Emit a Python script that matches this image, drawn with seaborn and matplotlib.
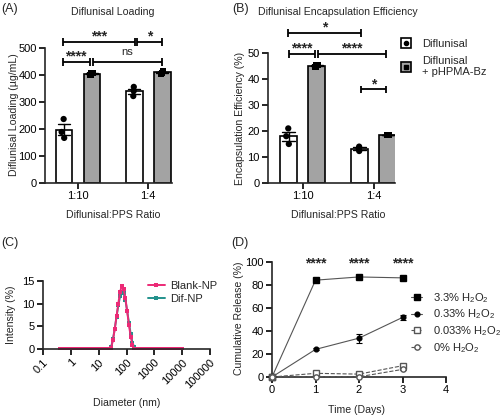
import numpy as np
import pandas as pd
import matplotlib.pyplot as plt
import seaborn as sns
from matplotlib.lines import Line2D

sns.set_theme(style="ticks")
plt.rcParams["font.family"] = ["Liberation Sans", "DejaVu Sans"]
plt.rcParams["mathtext.default"] = "regular"
plt.rcParams["font.size"] = 8
plt.rcParams["axes.linewidth"] = 1.2

# ---- data ----
ratios = ["1:10", "1:4"]
formulations = ["Diflunisal", "Diflunisal\n+ pHPMA-Bz"]

# drug loading (ug/mL), three replicates each
dif_loading_1_10 = [237, 189, 167]
bz_loading_1_10 = [401, 407, 408]
dif_loading_1_4 = [356, 341, 322]
bz_loading_1_4 = [405, 415, 408]

# encapsulation efficiency (%)
dif_ee_1_10 = [21.0, 18.0, 15.0]
bz_ee_1_10 = [44.6, 45.5, 45.4]
dif_ee_1_4 = [12.3, 14.0, 13.3]
bz_ee_1_4 = [18.4, 18.6, 18.5]

# DLS size distribution
diameter_nm = [
    0.4, 0.4632, 0.5365, 0.6213, 0.7195, 0.8332, 0.9649, 1.117, 1.294, 1.499,
    1.736, 2.01, 2.328, 2.696, 3.122, 3.615, 4.187, 4.849, 5.615, 6.503,
    7.531, 8.721, 10.1, 11.7, 13.54, 15.69, 18.17, 21.04, 24.36, 28.21,
    32.67, 37.84, 43.82, 50.75, 58.77, 68.06, 78.82, 91.28, 105.7, 122.4,
    141.8, 164.2, 190.1, 220.2, 255.0, 295.3, 342.0, 396.1, 458.7, 531.2,
    615.1, 712.4, 825.0, 955.4, 1106, 1281, 1484, 1718, 1990, 2305,
    2669, 3091, 3580, 4145, 4801, 5560, 6439, 7456, 8635, 10000,
]
blank_np = [
    0, 0, 0, 0, 0, 0, 0, 0, 0, 0,
    0, 0, 0, 0, 0, 0, 0, 0, 0, 0,
    0, 0, 0, 0, 0, 0, 0, 0, 0, 0.3,
    2.0, 4.4, 7.2, 10.0, 12.6, 14.0, 13.3, 11.2, 8.3, 5.3,
    2.7, 0.9, 0.1, 0, 0, 0, 0, 0, 0, 0,
    0, 0, 0, 0, 0, 0, 0, 0, 0, 0,
    0, 0, 0, 0, 0, 0, 0, 0, 0, 0,
]
dif_np = [
    0, 0, 0, 0, 0, 0, 0, 0, 0, 0,
    0, 0, 0, 0, 0, 0, 0, 0, 0, 0,
    0, 0, 0, 0, 0, 0, 0, 0, 0, 0.5,
    2.2, 4.5, 7.1, 9.6, 11.6, 12.6, 12.3, 10.8, 8.4, 5.8,
    3.3, 1.4, 0.4, 0, 0, 0, 0, 0, 0, 0,
    0, 0, 0, 0, 0, 0, 0, 0, 0, 0,
    0, 0, 0, 0, 0, 0, 0, 0, 0, 0,
]

# cumulative release (%) vs time
days = [0, 1, 2, 3]
rel_3_3 = [0, 84.2, 87.0, 86.2]
rel_0_33 = [0, 24.0, 33.8, 51.8]
rel_0_033 = [0, 3.2, 2.5, 9.8]
rel_0 = [0, 0.3, 0.2, 6.6]
sem_3_3 = [0, 0.6, 0.6, 0.8]
sem_0_33 = [0, 0.8, 4.0, 2.2]
sem_0_033 = [0, 0.5, 0.5, 1.0]
sem_0 = [0, 0.3, 0.3, 0.8]
release_labels = ["3.3% H$_2$O$_2$", "0.33% H$_2$O$_2$", "0.033% H$_2$O$_2$", "0% H$_2$O$_2$"]


def long_df(a, b, c, d):
    rows = []
    for ratio, form, vals in [("1:10", formulations[0], a), ("1:10", formulations[1], b),
                              ("1:4", formulations[0], c), ("1:4", formulations[1], d)]:
        for v in vals:
            rows.append({"ratio": ratio, "form": form, "value": v})
    return pd.DataFrame(rows)


loading_df = long_df(dif_loading_1_10, bz_loading_1_10, dif_loading_1_4, bz_loading_1_4)
ee_df = long_df(dif_ee_1_10, bz_ee_1_10, dif_ee_1_4, bz_ee_1_4)

gray = "#a3a3a3"
bar_colors = ["white", gray]
label_size = 7.6

W, H = 500, 416
fig = plt.figure(figsize=(5, 4.16), dpi=100)


def box(l, t, r, b):
    return [l / W, 1 - b / H, (r - l) / W, (b - t) / H]


def ftext(x, y, s, **kw):
    ha = kw.pop("ha", "center")
    va = kw.pop("va", "center")
    fig.text(x / W, 1 - y / H, s, ha=ha, va=va, **kw)


ax_a = fig.add_axes(box(45, 48, 172, 183))
ax_b = fig.add_axes(box(268, 53, 395, 183))
ax_c = fig.add_axes(box(43, 281, 210, 349))
ax_d = fig.add_axes(box(272, 262, 446, 377))


def style_ax(ax):
    sns.despine(ax=ax)
    ax.tick_params(length=4, width=1.2, labelsize=8, pad=2, color="black")
    ax.set(xlabel="", ylabel="")


def bar_panel(ax, df):
    np.random.seed(2)
    sns.barplot(data=df, x="ratio", y="value", hue="form", order=ratios, hue_order=formulations,
                palette=bar_colors, edgecolor="black", linewidth=1.2, width=0.8, gap=0.4,
                errorbar="se", capsize=0.35, err_kws={"color": "black", "linewidth": 1.0},
                legend=False, ax=ax)
    for form, mk in zip(formulations, ["o", "s"]):
        sns.stripplot(data=df[df["form"] == form], x="ratio", y="value", hue="form",
                      order=ratios, hue_order=formulations, palette=["black", "black"],
                      dodge=True, jitter=0.07, marker=mk, size=4.5, linewidth=0,
                      legend=False, ax=ax, zorder=4)
    style_ax(ax)


def bracket(ax, x1, x2, y, tick, text, dy=1.0, size=10, weight="bold"):
    kw = dict(color="black", lw=1.3, clip_on=False, solid_capstyle="butt")
    ax.plot([x1, x2], [y, y], **kw)
    ax.plot([x1, x1], [y - tick, y + tick], **kw)
    ax.plot([x2, x2], [y - tick, y + tick], **kw)
    ax.annotate(text, xy=((x1 + x2) / 2, y), xytext=(0, dy), textcoords="offset points",
                ha="center", va="baseline", fontsize=size, fontweight=weight,
                annotation_clip=False)


# ---- (A) loading ----
bar_panel(ax_a, loading_df)
ax_a.set_xlim(-0.47, 1.34)
ax_a.set_ylim(0, 500)
ax_a.set_yticks([0, 100, 200, 300, 400, 500])
bracket(ax_a, -0.22, 0.17, 448, 15, "****")
bracket(ax_a, 0.21, 1.2, 448, 15, "ns", dy=5, size=8, weight="normal")
bracket(ax_a, -0.22, 0.81, 522, 15, "***")
bracket(ax_a, 0.84, 1.2, 522, 15, "*")

# ---- (B) encapsulation efficiency ----
bar_panel(ax_b, ee_df)
ax_b.set_xlim(-0.49, 1.3)
ax_b.set_ylim(0, 50)
ax_b.set_yticks([0, 10, 20, 30, 40, 50])
bracket(ax_b, -0.21, 0.82, 57.7, 1.5, "*")
bracket(ax_b, -0.2, 0.17, 49.6, 1.5, "****")
bracket(ax_b, 0.21, 1.18, 49.6, 1.5, "****")
bracket(ax_b, 0.82, 1.18, 36.0, 1.5, "*")

h1 = (Line2D([], [], ls="", marker="s", ms=7.5, mfc="white", mec="black", mew=1.2),
      Line2D([], [], ls="", marker="o", ms=3, color="black"))
h2 = (Line2D([], [], ls="", marker="s", ms=7.5, mfc=gray, mec="black", mew=1.2),
      Line2D([], [], ls="", marker="s", ms=3, color="black"))
ax_b.legend([h1, h2], formulations, loc="upper left", bbox_to_anchor=(400 / W, 1 - 39 / H),
            bbox_transform=fig.transFigure, frameon=False, handlelength=1.0,
            handletextpad=1.0, borderpad=0, borderaxespad=0, labelspacing=0.6, fontsize=8)

# ---- (C) DLS ----
pink = "#ec2a76"
teal = "#23928c"
sns.lineplot(x=diameter_nm, y=dif_np, color=teal, lw=1.4, marker="s", markersize=2.8,
             markeredgewidth=0, ax=ax_c)
sns.lineplot(x=diameter_nm, y=blank_np, color=pink, lw=1.4, marker="s", markersize=2.8,
             markeredgewidth=0, ax=ax_c)
ax_c.set_xscale("log")
ax_c.set_xlim(0.1, 100000)
ax_c.set_ylim(0, 15)
ax_c.set_yticks([0, 5, 10, 15])
ax_c.set_xticks([0.1, 1, 10, 100, 1000, 10000, 100000])
ax_c.set_xticklabels(["0.1", "1", "10", "100", "1000", "10000", "100000"], rotation=45,
                     ha="right", rotation_mode="anchor")
ax_c.minorticks_off()
style_ax(ax_c)
hc = [Line2D([], [], color=pink, lw=1.4, marker="s", ms=2.8, mew=0),
      Line2D([], [], color=teal, lw=1.4, marker="s", ms=2.8, mew=0)]
ax_c.legend(hc, ["Blank-NP", "Dif-NP"], loc="upper left", bbox_to_anchor=(148 / W, 1 - 281 / H),
            bbox_transform=fig.transFigure, frameon=False, handlelength=1.5,
            handletextpad=0.45, borderpad=0, borderaxespad=0, labelspacing=0.3, fontsize=8)

# ---- (D) release ----
line_gray = "#555555"
series = [
    (rel_3_3, sem_3_3, "-", "s", "black", "black", 3.8),
    (rel_0_33, sem_0_33, "-", "o", "black", "black", 3.4),
    (rel_0_033, sem_0_033, "--", "s", "white", "#555555", 3.8),
    (rel_0, sem_0, "--", "o", "white", "#555555", 3.8),
]
hd = []
for vals, sem, ls, mk, fc, ec, ms in series:
    ax_d.errorbar(days, vals, yerr=sem, fmt="none", ecolor="black", elinewidth=0.8,
                  capsize=2.5, capthick=0.8, zorder=2)
    sns.lineplot(x=days, y=vals, color=line_gray, lw=0.8, linestyle=ls, marker=mk,
                 markersize=ms, markerfacecolor=fc, markeredgecolor=ec, markeredgewidth=1.0,
                 clip_on=False, zorder=3, ax=ax_d)
    hd.append(Line2D([], [], color=line_gray, lw=0.8, ls=ls, marker=mk, ms=ms, mfc=fc,
                     mec=ec, mew=1.0))
ax_d.set_xlim(0, 4)
ax_d.set_ylim(0, 100)
ax_d.set_xticks([0, 1, 2, 3, 4])
ax_d.set_yticks([0, 20, 40, 60, 80, 100])
style_ax(ax_d)
for day in days[1:]:
    ax_d.text(day, 95, "****", ha="center", va="baseline", fontsize=10, fontweight="bold",
              clip_on=False)
ax_d.legend(hd, release_labels, loc="upper left", bbox_to_anchor=(411 / W, 1 - 291 / H),
            bbox_transform=fig.transFigure, frameon=False, handlelength=1.0,
            handletextpad=1.0, borderpad=0, borderaxespad=0, labelspacing=0.25, fontsize=8)

for ax in [ax_a, ax_b, ax_c, ax_d]:
    for t in ax.get_xticklabels() + ax.get_yticklabels():
        t.set_color("black")

# ---- text ----
ftext(113, 12, "Diflunisal Loading", fontsize=label_size)
ftext(338, 12, "Diflunisal Encapsulation Efficiency", fontsize=label_size)
ftext(1, 9, "(A)", ha="left", fontsize=9)
ftext(232, 9, "(B)", ha="left", fontsize=9)
ftext(1, 243, "(C)", ha="left", fontsize=9)
ftext(231, 243, "(D)", ha="left", fontsize=9)
ftext(14, 115, "Diflunisal Loading (µg/mL)", rotation=90, fontsize=label_size)
ftext(240, 118, "Encapsulation Efficiency (%)", rotation=90, fontsize=label_size)
ftext(11, 315, "Intensity (%)", rotation=90, fontsize=label_size)
ftext(239, 318, "Cumulative Release (%)", rotation=90, fontsize=label_size)
ftext(113, 215, "Diflunisal:PPS Ratio", fontsize=label_size)
ftext(338, 215, "Diflunisal:PPS Ratio", fontsize=label_size)
ftext(127, 403, "Diameter (nm)", fontsize=label_size)
ftext(357, 410, "Time (Days)", fontsize=label_size)

fig.savefig("out.png", dpi=100, facecolor="white")
